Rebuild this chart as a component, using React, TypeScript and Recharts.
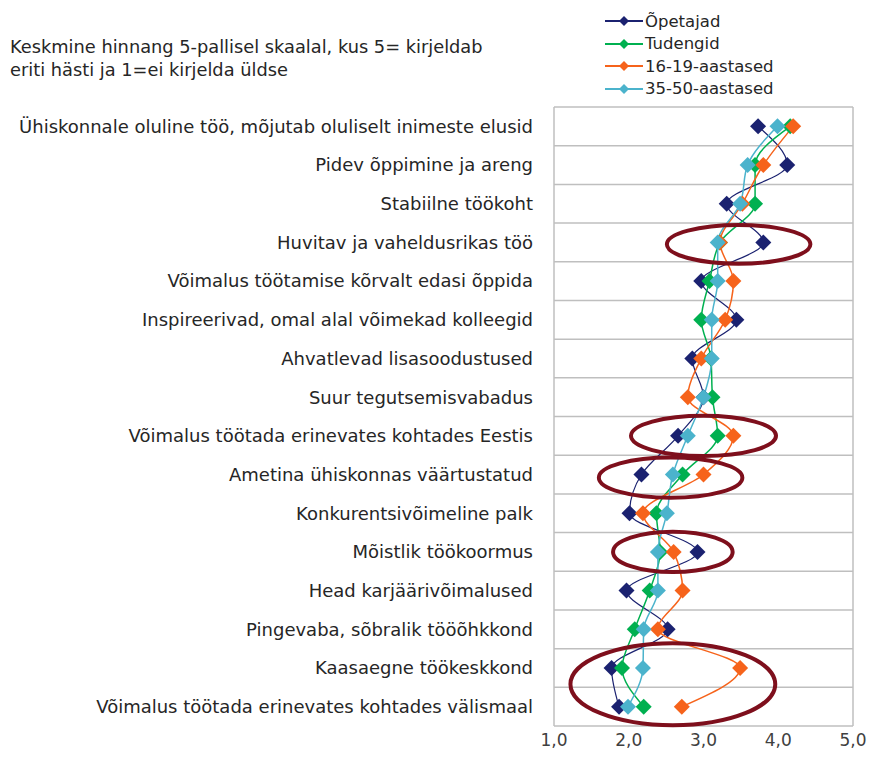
import { LineChart, Line, XAxis, YAxis, CartesianGrid, ReferenceDot } from "recharts";

const categories = [
  "Ühiskonnale oluline töö, mõjutab oluliselt inimeste elusid",
  "Pidev õppimine ja areng",
  "Stabiilne töökoht",
  "Huvitav ja vaheldusrikas töö",
  "Võimalus töötamise kõrvalt edasi õppida",
  "Inspireerivad, omal alal võimekad kolleegid",
  "Ahvatlevad lisasoodustused",
  "Suur tegutsemisvabadus",
  "Võimalus töötada erinevates kohtades Eestis",
  "Ametina ühiskonnas väärtustatud",
  "Konkurentsivõimeline palk",
  "Mõistlik töökoormus",
  "Head karjäärivõimalused",
  "Pingevaba, sõbralik tööõhkkond",
  "Kaasaegne töökeskkond",
  "Võimalus töötada erinevates kohtades välismaal",
];

const opetajad = [3.73, 4.12, 3.31, 3.8, 2.97, 3.44, 2.85, 3.0, 2.66, 2.17, 2.01, 2.92, 1.97, 2.52, 1.77, 1.87];
const tudengid = [4.16, 3.69, 3.69, 3.22, 3.08, 2.97, 3.1, 3.12, 3.19, 2.72, 2.37, 2.42, 2.28, 2.08, 1.91, 2.2];
const vanus1619 = [4.2, 3.8, 3.52, 3.22, 3.4, 3.29, 2.97, 2.79, 3.4, 3.0, 2.19, 2.6, 2.72, 2.39, 3.49, 2.71];
const vanus3550 = [3.99, 3.59, 3.49, 3.19, 3.19, 3.11, 3.11, 3.0, 2.79, 2.59, 2.51, 2.39, 2.39, 2.2, 2.19, 1.99];

const xTicks = [1, 2, 3, 4, 5];

// highlighted rows (red ellipses)
const ellipseRows = [3, 8, 9, 11, 14];
const ellipseCenters = [3.47, 3.0, 2.56, 2.59, 2.59];
const ellipseRx = [0.96, 0.97, 0.96, 0.8, 1.37];
const ellipseRy = [0.5, 0.52, 0.52, 0.52, 1.06];
const ellipseShift = [0.05, 0, 0.08, 0, 0.42];

const seriesNames = ["Õpetajad", "Tudengid", "16-19-aastased", "35-50-aastased"];
const seriesKeys = ["opetajad", "tudengid", "vanus1619", "vanus3550"];
const colors = ["#1b2270", "#00b050", "#f6631b", "#4bb3cc"];
const widths = [1.2, 1.5, 1.5, 1.5];

const data = categories.map((name, i) => ({
  name,
  opetajad: opetajad[i],
  tudengid: tudengid[i],
  vanus1619: vanus1619[i],
  vanus3550: vanus3550[i],
}));

const W = 874;
const H = 757;
const X_H = 30;
const M = { top: 107, right: 21, bottom: 1, left: 8 };
const Y_W = 546;
const PLOT_W = W - M.left - M.right - Y_W;
const PLOT_H = H - M.top - M.bottom - X_H;
const UNIT = PLOT_W / 4;
const BAND = PLOT_H / categories.length;

const FONT = "'DejaVu Sans', Verdana, sans-serif";

function diamond(color: string, s: number) {
  return (props: any) => {
    const { cx, cy, index } = props;
    if (cx == null || cy == null) return <g key={index} />;
    return (
      <path
        key={index}
        d={`M${cx},${cy - s}L${cx + s},${cy}L${cx},${cy + s}L${cx - s},${cy}Z`}
        fill={color}
      />
    );
  };
}

function ellipseShape(i: number) {
  return (props: any) => (
    <ellipse
      cx={props.cx}
      cy={props.cy + ellipseShift[i] * BAND}
      rx={ellipseRx[i] * UNIT}
      ry={ellipseRy[i] * BAND}
      fill="none"
      stroke="#7e0f1c"
      strokeWidth={4}
    />
  );
}

function ChartLegend() {
  return (
    <div
      style={{
        position: "absolute",
        left: 605,
        top: 10,
        fontFamily: FONT,
        fontSize: 16.5,
        color: "#262626",
      }}
    >
      {seriesNames.map((n, i) => (
        <div key={n} style={{ display: "flex", alignItems: "center", height: 22.5 }}>
          <svg width={38} height={14} style={{ marginRight: 2 }}>
            <line x1={0} y1={7} x2={38} y2={7} stroke={colors[i]} strokeWidth={2} />
            <path d="M19,2L24,7L19,12L14,7Z" fill={colors[i]} />
          </svg>
          <span>{n}</span>
        </div>
      ))}
    </div>
  );
}

export default function App() {
  return (
    <div style={{ position: "absolute", left: 0, top: 0, width: W, height: H, background: "#fff" }}>
      <div
        style={{
          position: "absolute",
          left: 10,
          top: 35,
          fontFamily: FONT,
          fontSize: 17.8,
          lineHeight: "23px",
          color: "#262626",
          whiteSpace: "nowrap",
        }}
      >
        Keskmine hinnang 5-pallisel skaalal, kus 5= kirjeldab
        <br />
        eriti hästi ja 1=ei kirjelda üldse
      </div>
      <ChartLegend />
      <LineChart width={W} height={H} data={data} layout="vertical" margin={M}>
        <CartesianGrid
          stroke="#bfbfbf"
          strokeWidth={1.5}
          horizontalCoordinatesGenerator={({ offset }: any) =>
            Array.from({ length: categories.length + 1 }, (_, i) => offset.top + (i * offset.height) / categories.length)
          }
          verticalCoordinatesGenerator={({ offset }: any) => [offset.left, offset.left + offset.width]}
        />
        <XAxis
          type="number"
          domain={[1, 5]}
          ticks={xTicks}
          height={X_H}
          tickFormatter={(v: number) => v.toFixed(1).replace(".", ",")}
          axisLine={false}
          tickLine={false}
          tickMargin={2}
          tick={{ fill: "#404040", fontSize: 17, fontFamily: FONT }}
        />
        <YAxis
          type="category"
          dataKey="name"
          width={Y_W}
          padding={{ top: BAND / 2, bottom: BAND / 2 }}
          axisLine={false}
          tickLine={false}
          tickSize={0}
          tickMargin={21}
          interval={0}
          tick={{ fill: "#262626", fontSize: 18, fontFamily: FONT }}
        />
        {seriesKeys.map((k, i) => (
          <Line
            key={k}
            dataKey={k}
            name={seriesNames[i]}
            type="monotone"
            stroke={colors[i]}
            strokeWidth={widths[i]}
            dot={diamond(colors[i], 8)}
            activeDot={false}
            isAnimationActive={false}
          />
        ))}
        {ellipseRows.map((r, i) => (
          <ReferenceDot
            key={"e" + i}
            x={ellipseCenters[i]}
            y={categories[r]}
            r={1}
            shape={ellipseShape(i)}
            ifOverflow="visible"
          />
        ))}
      </LineChart>
    </div>
  );
}
